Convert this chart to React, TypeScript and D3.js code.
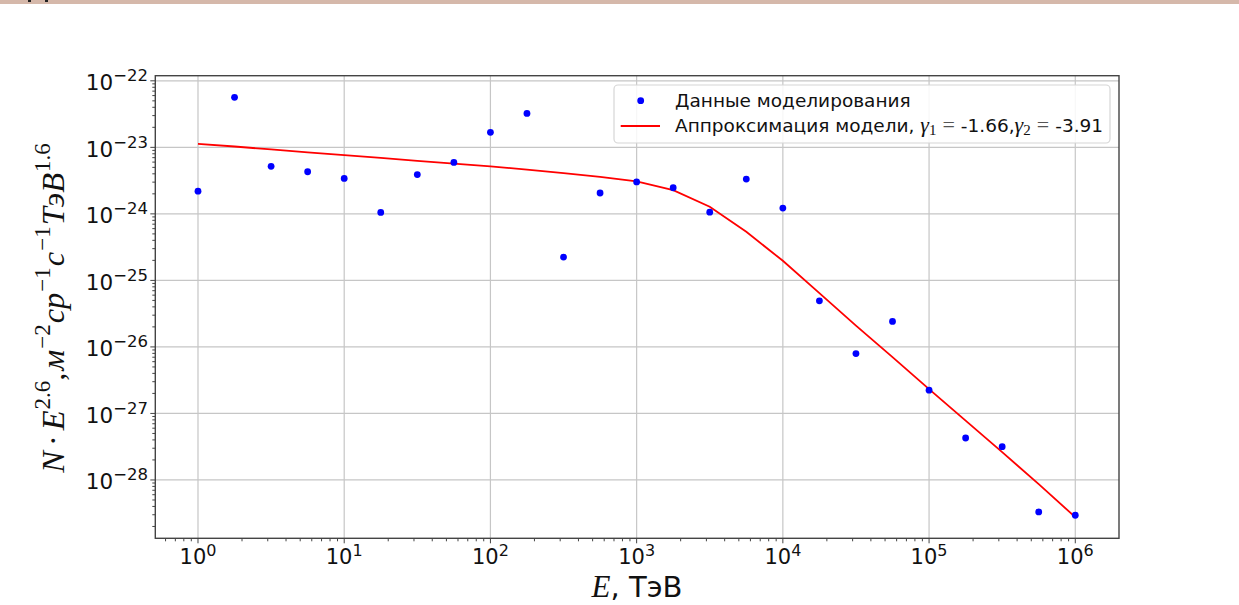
import React from "react";
import * as d3 from "d3";

// Energies, TeV (quarter-decade steps)
const energies = [
  1, 1.778, 3.162, 5.623, 10, 17.78, 31.62, 56.23, 100, 177.8, 316.2, 562.3,
  1000, 1778, 3162, 5623, 1e4, 17783, 31623, 56234, 1e5, 177828, 316228, 562341, 1e6,
];

// Simulated data: N·E^2.6
const simValues = [
  2.19e-24, 5.65e-23, 5.18e-24, 4.3e-24, 3.41e-24, 1.05e-24, 3.89e-24, 5.94e-24,
  1.68e-23, 3.24e-23, 2.24e-25, 2.06e-24, 3.02e-24, 2.47e-24, 1.06e-24, 3.33e-24,
  1.22e-24, 4.93e-26, 7.94e-27, 2.42e-26, 2.24e-27, 4.27e-28, 3.16e-28, 3.31e-29, 2.95e-29,
];

// Model approximation
const fitValues = [
  1.13e-23, 1.03e-23, 9.29e-24, 8.43e-24, 7.66e-24, 6.93e-24, 6.28e-24, 5.69e-24,
  5.16e-24, 4.63e-24, 4.11e-24, 3.61e-24, 3.08e-24, 2.28e-24, 1.28e-24, 5.38e-25,
  1.97e-25, 6.44e-26, 2.09e-26, 7.03e-27, 2.32e-27, 7.8e-28, 2.62e-28, 8.65e-29, 2.76e-29,
];

const xTickExps = [0, 1, 2, 3, 4, 5, 6];
const yTickExps = [-22, -23, -24, -25, -26, -27, -28];

const legendData = "Данные моделирования";
const legendFit = "Аппроксимация модели, ";
const gamma1 = "-1.66";
const gamma2 = "-3.91";

const W = 1239;
const H = 605;
const L = 155.3, R = 1119, T = 75.7, B = 538.3;

const SANS = "'DejaVu Sans', sans-serif";
const SERIF = "'Liberation Serif', 'DejaVu Serif', serif";
const FRAME = "#444";

export default function App() {
  const x = d3.scaleLog().domain([Math.pow(10, -0.292), Math.pow(10, 6.299)]).range([L, R]);
  const y = d3.scaleLog().domain([Math.pow(10, -28.877), Math.pow(10, -21.923)]).range([B, T]);

  const line = d3
    .line<number>()
    .x((_, i) => x(energies[i]))
    .y((v) => y(v));

  const xMinor: number[] = [];
  for (let e = -1; e <= 6; e++) {
    for (let m = 2; m <= 9; m++) {
      const v = m * Math.pow(10, e);
      const px = x(v);
      if (px >= L && px <= R) xMinor.push(px);
    }
  }
  const yMinor: number[] = [];
  for (let e = -29; e <= -22; e++) {
    for (let m = 2; m <= 9; m++) {
      const v = m * Math.pow(10, e);
      const py = y(v);
      if (py >= T && py <= B) yMinor.push(py);
    }
  }

  return (
    <svg
      width={W}
      height={H}
      style={{ position: "fixed", left: 0, top: 0, background: "#fff" }}
    >
      <rect x={0} y={0} width={W} height={H} fill="#fff" />
      <rect x={0} y={0} width={W} height={4} fill="#d5b8aa" />
      <rect x={28} y={0} width={3} height={2} fill="#222" />
      <rect x={45} y={0} width={3} height={2} fill="#222" />

      {/* grid */}
      <g stroke="#c6c6c6" strokeWidth={1.2}>
        {xTickExps.map((e) => (
          <line key={"gx" + e} x1={x(Math.pow(10, e))} x2={x(Math.pow(10, e))} y1={T} y2={B} />
        ))}
        {yTickExps.map((e) => (
          <line key={"gy" + e} x1={L} x2={R} y1={y(Math.pow(10, e))} y2={y(Math.pow(10, e))} />
        ))}
      </g>

      {/* fit line */}
      <path d={line(fitValues) || ""} fill="none" stroke="#ff0000" strokeWidth={1.8} />

      {/* points */}
      {simValues.map((v, i) => (
        <circle key={"p" + i} cx={x(energies[i])} cy={y(v)} r={3.4} fill="#0000ff" />
      ))}

      {/* frame */}
      <rect x={L} y={T} width={R - L} height={B - T} fill="none" stroke={FRAME} strokeWidth={1.4} />

      {/* ticks */}
      <g stroke={FRAME} strokeWidth={1}>
        {xTickExps.map((e) => (
          <line key={"tx" + e} x1={x(Math.pow(10, e))} x2={x(Math.pow(10, e))} y1={B} y2={B + 5} />
        ))}
        {xMinor.map((px, i) => (
          <line key={"mx" + i} x1={px} x2={px} y1={B} y2={B + 3} />
        ))}
        {yTickExps.map((e) => (
          <line key={"ty" + e} x1={L - 5} x2={L} y1={y(Math.pow(10, e))} y2={y(Math.pow(10, e))} />
        ))}
        {yMinor.map((py, i) => (
          <line key={"my" + i} x1={L - 3} x2={L} y1={py} y2={py} />
        ))}
      </g>

      {/* x tick labels */}
      {xTickExps.map((e) => (
        <text
          key={"lx" + e}
          x={x(Math.pow(10, e))}
          y={564}
          textAnchor="middle"
          fontFamily={SANS}
          fontSize={21}
          fill="#111"
        >
          10
          <tspan dy={-8.5} fontSize={16}>{String(e)}</tspan>
        </text>
      ))}

      {/* y tick labels */}
      {yTickExps.map((e) => (
        <text
          key={"ly" + e}
          x={148}
          y={y(Math.pow(10, e)) + 9.5}
          textAnchor="end"
          fontFamily={SANS}
          fontSize={21.5}
          fill="#111"
        >
          10
          <tspan dy={-9} fontSize={16.5}>{"\u2212" + String(-e)}</tspan>
        </text>
      ))}

      {/* x axis title */}
      <text x={637} y={597} textAnchor="middle" fontSize={29} fill="#111">
        <tspan fontFamily={SERIF} fontStyle="italic" fontSize={31}>E</tspan>
        <tspan fontFamily={SANS}>, ТэВ</tspan>
      </text>

      {/* y axis title */}
      <text
        transform="translate(64,308) rotate(-90)"
        textAnchor="middle"
        fontFamily={SERIF}
        fontSize={32.5}
        fill="#111"
      >
        <tspan fontStyle="italic">N</tspan>
        <tspan dx={5}>{"\u00b7"}</tspan>
        <tspan dx={5} fontStyle="italic">E</tspan>
        <tspan dx={1} dy={-14} fontSize={23}>2.6</tspan>
        <tspan dy={14}>,</tspan>
        <tspan dx={2} fontStyle="italic">м</tspan>
        <tspan dx={1} dy={-14} fontSize={23}>{"\u22122"}</tspan>
        <tspan dx={1} dy={14} fontStyle="italic">ср</tspan>
        <tspan dx={1} dy={-14} fontSize={23}>{"\u22121"}</tspan>
        <tspan dx={1} dy={14} fontStyle="italic">с</tspan>
        <tspan dx={1} dy={-14} fontSize={23}>{"\u22121"}</tspan>
        <tspan dx={1} dy={14} fontStyle="italic">ТэВ</tspan>
        <tspan dx={1} dy={-14} fontSize={23}>1.6</tspan>
      </text>

      {/* legend */}
      <rect x={614} y={85} width={496} height={58} rx={4} fill="#fff" fillOpacity={0.85} stroke="#d6d6d6" strokeWidth={1.2} />
      <circle cx={640.7} cy={100.7} r={3.4} fill="#0000ff" />
      <line x1={620.7} x2={660} y1={126} y2={126} stroke="#ff0000" strokeWidth={1.8} />
      <text x={675} y={106.5} fontFamily={SANS} fontSize={18.5} fill="#111">
        {legendData}
      </text>
      <text x={675} y={132} fontFamily={SANS} fontSize={18.5} fill="#111">
        <tspan>{legendFit}</tspan>
        <tspan fontFamily={SERIF} fontStyle="italic" fontSize={22}>γ</tspan>
        <tspan fontFamily={SERIF} fontSize={15} dy={3}>1</tspan>
        <tspan fontFamily={SERIF} fontSize={22} dy={-3} dx={6} fill="#555">=</tspan>
        <tspan dx={6}>{gamma1 + ","}</tspan>
        <tspan fontFamily={SERIF} fontStyle="italic" fontSize={22}>γ</tspan>
        <tspan fontFamily={SERIF} fontSize={15} dy={3}>2</tspan>
        <tspan fontFamily={SERIF} fontSize={22} dy={-3} dx={6} fill="#555">=</tspan>
        <tspan dx={6}>{gamma2}</tspan>
      </text>
    </svg>
  );
}
